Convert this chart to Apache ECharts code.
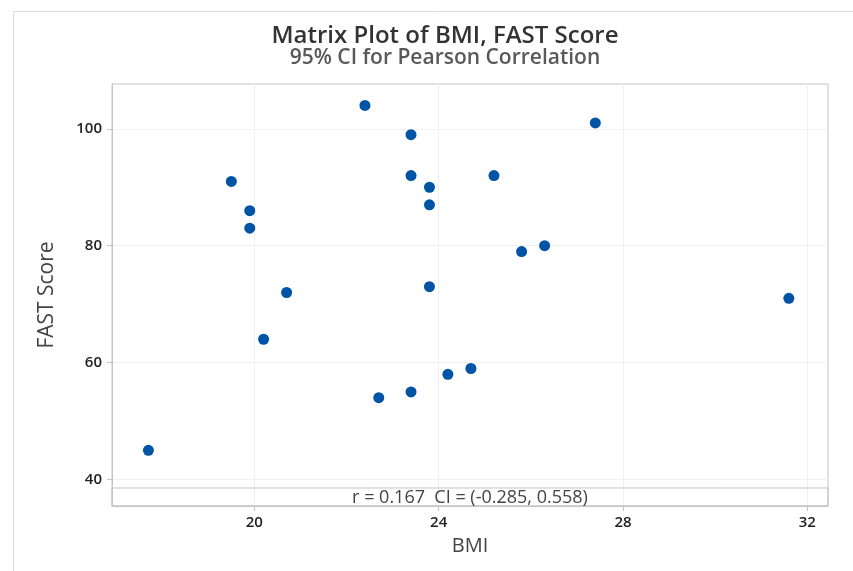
<!DOCTYPE html>
<html>
<head>
<meta charset="utf-8">
<script src="https://cdn.jsdelivr.net/npm/echarts@6/dist/echarts.min.js"></script>
<style>html,body{margin:0;padding:0;background:#fff}#c{width:853px;height:571px}</style>
</head>
<body>
<div id="c"></div>
<script>
// Data
const bmi  = [17.7, 19.5, 19.9, 19.9, 20.2, 20.7, 22.4, 22.7, 23.4, 23.4, 23.4, 23.8, 23.8, 23.8, 24.2, 24.7, 25.2, 25.8, 26.3, 27.4, 31.6];
const fast = [45,   91,   86,   83,   64,   72,   104,  54,   99,   92,   55,   90,   87,   73,   58,   59,   92,   79,   80,   101,  71];
const xTicks = [20, 24, 28, 32];
const yTicks = [40, 60, 80, 100];
const titleText = 'Matrix Plot of BMI, FAST Score';
const subText = '95% CI for Pearson Correlation';
const corrText = 'r = 0.167  CI = (-0.285, 0.558)';

const points = bmi.map((b, i) => [b, fast[i]]);
const FONT = '"Open Sans", "Noto Sans", sans-serif';
const axisGray = '#c4c4c4';
const X_MIN = 16.91, X_MAX = 32.45, Y_MIN = 35.48, Y_MAX = 107.66, BAND_TOP = 38.56;

const chart = echarts.init(document.getElementById('c'), null, {renderer: 'canvas'});
chart.setOption({
  animation: false,
  backgroundColor: '#fff',
  graphic: [{
    type: 'rect', left: 11, top: 9, silent: true,
    shape: {width: 900, height: 620},
    style: {fill: 'none', stroke: '#dcdcdc', lineWidth: 1}
  }],
  title: {
    text: titleText, subtext: subText,
    left: 440, textAlign: 'center', top: 19, itemGap: 0,
    textStyle: {fontFamily: FONT, fontSize: 24, fontWeight: 600, color: '#333'},
    subtextStyle: {fontFamily: FONT, fontSize: 21, fontWeight: 600, color: '#595959'}
  },
  grid: {left: 112, right: 25, top: 84, bottom: 65, show: true, borderColor: axisGray, borderWidth: 1},
  xAxis: {
    type: 'value', min: X_MIN, max: X_MAX,
    name: 'BMI', nameLocation: 'middle', nameGap: 30,
    nameTextStyle: {fontFamily: FONT, fontSize: 20, color: '#444'},
    axisLine: {show: true, lineStyle: {color: axisGray}},
    axisTick: {show: true, length: 5, lineStyle: {color: axisGray}, customValues: xTicks},
    axisLabel: {customValues: xTicks, margin: 9, fontFamily: FONT, fontSize: 15, fontWeight: 600, color: '#222'},
    splitLine: {show: true, lineStyle: {color: '#f0f0f0'}}
  },
  yAxis: {
    type: 'value', min: Y_MIN, max: Y_MAX,
    name: 'FAST Score', nameLocation: 'middle', nameGap: 54, nameRotate: 90,
    nameTextStyle: {fontFamily: FONT, fontSize: 21, color: '#444'},
    axisLine: {show: true, lineStyle: {color: axisGray}},
    axisTick: {show: true, length: 5, lineStyle: {color: axisGray}, customValues: yTicks},
    axisLabel: {customValues: yTicks, margin: 10, fontFamily: FONT, fontSize: 15, fontWeight: 600, color: '#222'},
    splitLine: {show: true, lineStyle: {color: '#f0f0f0'}}
  },
  series: [{
    type: 'scatter',
    data: points,
    symbol: 'circle', symbolSize: 11,
    itemStyle: {color: '#0054A6', opacity: 1},
    markArea: {
      silent: true,
      itemStyle: {color: 'rgba(0,0,0,0)', borderColor: axisGray, borderWidth: 1},
      label: {show: true, position: 'inside', offset: [0, 1], fontFamily: FONT, fontSize: 18, color: '#444'},
      data: [[{name: corrText, xAxis: X_MIN, yAxis: Y_MIN}, {xAxis: X_MAX, yAxis: BAND_TOP}]]
    }
  }]
});
</script>
</body>
</html>
